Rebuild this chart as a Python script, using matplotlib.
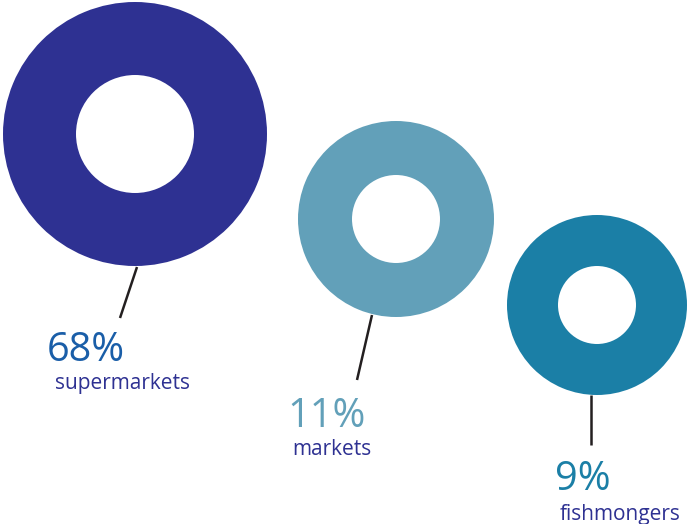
import matplotlib
matplotlib.use("Agg")
import matplotlib.pyplot as plt

# data
categories = ["supermarkets", "markets", "fishmongers"]
shares = [68, 11, 9]
ring_colors = ["#2e3192", "#62a0b9", "#1b7fa6"]
pct_colors = ["#1a5ea8", "#62a0b9", "#1b7fa6"]
label_color = "#2e3192"

# layout (pixels, y down)
centers = [(135, 134), (396, 219), (597, 305)]
radii = [132, 98, 90]
holes = [59, 44, 39]
leaders = [((137, 267), (120, 318)), ((372, 315), (357, 380)), ((591, 395), (591, 445))]
pct_pos = [(47, 361), (287, 427), (555, 490)]
lab_pos = [(55, 389), (292, 455), (560, 520)]

plt.rcParams["font.family"] = ["Open Sans", "DejaVu Sans"]

fig = plt.figure(figsize=(6.87, 5.24), dpi=100)
ax = fig.add_axes([0, 0, 1, 1])

for i in range(len(shares)):
    ax.pie([shares[i]], colors=[ring_colors[i]], center=centers[i], radius=radii[i],
           wedgeprops=dict(width=radii[i] - holes[i], linewidth=0), startangle=90)
    (x0, y0), (x1, y1) = leaders[i]
    ax.plot([x0, x1], [y0, y1], color="#231f20", lw=1.8, solid_capstyle="butt")
    ax.text(pct_pos[i][0], pct_pos[i][1], "%d%%" % shares[i], color=pct_colors[i],
            fontsize=28.5, ha="left", va="baseline")
    ax.text(lab_pos[i][0], lab_pos[i][1], categories[i], color=label_color,
            fontsize=15, ha="left", va="baseline")

ax.set_xlim(0, 687)
ax.set_ylim(524, 0)
ax.set_aspect("equal")
ax.axis("off")

plt.savefig("out.png", dpi=100)
